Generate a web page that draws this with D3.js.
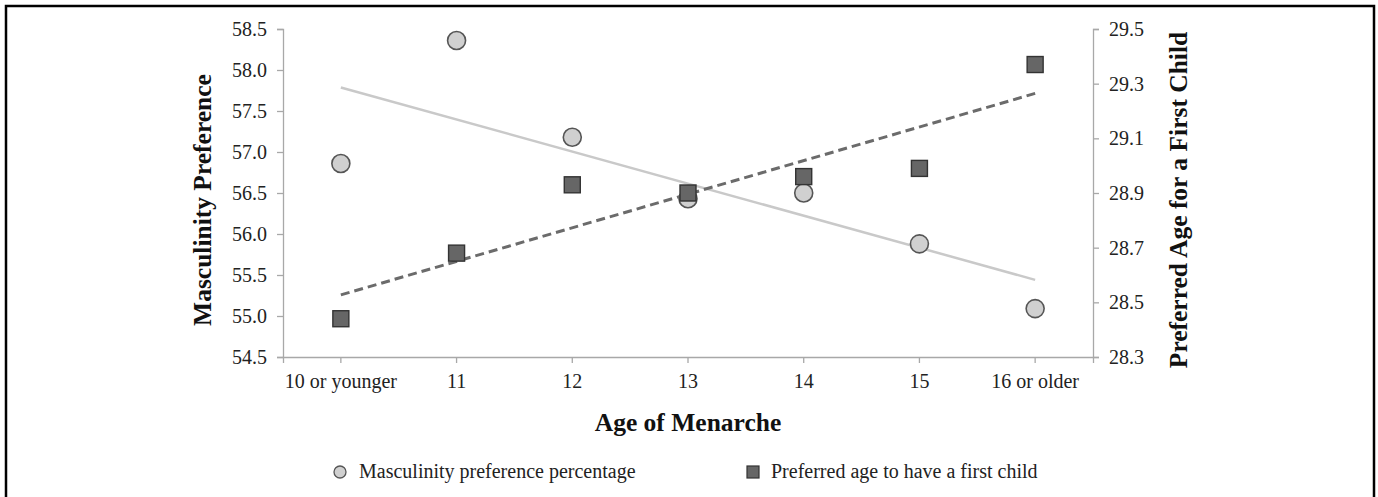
<!DOCTYPE html>
<html>
<head>
<meta charset="utf-8">
<script src="https://cdn.jsdelivr.net/npm/d3@7"></script>
<style>
  html, body { margin: 0; padding: 0; background: #fff; }
  svg { display: block; }
</style>
</head>
<body>
<svg id="chart" width="1378" height="497"></svg>
<script>
// ---- data ----
const categories = ["10 or younger", "11", "12", "13", "14", "15", "16 or older"];
const masculinity = [56.86, 58.36, 57.18, 56.43, 56.50, 55.88, 55.09];
const firstChildAge = [28.44, 28.68, 28.93, 28.90, 28.96, 28.99, 29.37];
const leftTicks = [54.5, 55.0, 55.5, 56.0, 56.5, 57.0, 57.5, 58.0, 58.5];
const rightTicks = [28.3, 28.5, 28.7, 28.9, 29.1, 29.3, 29.5];
const seriesNames = ["Masculinity preference percentage", "Preferred age to have a first child"];

// ---- layout ----
const svg = d3.select("#chart");
const font = "'Liberation Serif', 'Times New Roman', serif";
const L = 283, R = 1093, T = 29, B = 357;

svg.append("rect").attr("x", 6).attr("y", 6).attr("width", 1368).attr("height", 510)
  .attr("fill", "none").attr("stroke", "#000").attr("stroke-width", 2.5);

const x = d3.scaleBand().domain(categories).range([L, R]).padding(0);
const cx = c => x(c) + x.bandwidth() / 2;
const yL = d3.scaleLinear().domain([54.5, 58.5]).range([B, T]);
const yR = d3.scaleLinear().domain([28.3, 29.5]).range([B, T]);

function styleAxis(g) {
  g.selectAll("path, line").attr("stroke", "#a8a8a8").attr("stroke-width", 1.3);
  g.selectAll("text").attr("font-family", font).attr("font-size", 20).attr("fill", "#222");
}

svg.append("g").attr("transform", `translate(${L},0)`)
  .call(d3.axisLeft(yL).tickValues(leftTicks).tickFormat(d3.format(".1f")).tickSizeOuter(0).tickSize(6).tickPadding(10))
  .call(styleAxis);
svg.append("g").attr("transform", `translate(${R},0)`)
  .call(d3.axisRight(yR).tickValues(rightTicks).tickFormat(d3.format(".1f")).tickSizeOuter(0).tickSize(6).tickPadding(10))
  .call(styleAxis);
svg.append("g").attr("transform", `translate(0,${B})`)
  .call(d3.axisBottom(x).tickSizeOuter(0).tickSize(6).tickPadding(11))
  .call(styleAxis);

// ---- axis titles ----
svg.append("text").attr("transform", `translate(211,200) rotate(-90)`)
  .attr("text-anchor", "middle").attr("font-family", font).attr("font-weight", "bold")
  .attr("font-size", 25.5).attr("fill", "#111").text("Masculinity Preference");
svg.append("text").attr("transform", `translate(1187,200) rotate(-90)`)
  .attr("text-anchor", "middle").attr("font-family", font).attr("font-weight", "bold")
  .attr("font-size", 25.5).attr("fill", "#111").text("Preferred Age for a First Child");
svg.append("text").attr("x", (L + R) / 2).attr("y", 431)
  .attr("text-anchor", "middle").attr("font-family", font).attr("font-weight", "bold")
  .attr("font-size", 25.5).attr("fill", "#111").text("Age of Menarche");

// ---- trend lines (least squares over category index) ----
function fit(vals) {
  const n = vals.length, xs = vals.map((_, i) => i);
  const mx = d3.mean(xs), my = d3.mean(vals);
  const sxy = d3.sum(xs, (xi, i) => (xi - mx) * (vals[i] - my));
  const sxx = d3.sum(xs, xi => (xi - mx) ** 2);
  const b = sxy / sxx, a = my - b * mx;
  return [[0, a], [n - 1, a + b * (n - 1)]];
}
const line = yScale => d3.line().x(d => cx(categories[d[0]])).y(d => yScale(d[1]));

svg.append("path").datum(fit(masculinity)).attr("d", line(yL))
  .attr("fill", "none").attr("stroke", "#c9c9c9").attr("stroke-width", 2.5);

// ---- markers ----
svg.append("g").selectAll("circle").data(masculinity).join("circle")
  .attr("cx", (d, i) => cx(categories[i])).attr("cy", d => yL(d)).attr("r", 9)
  .attr("fill", "#d0d0d0").attr("stroke", "#555").attr("stroke-width", 1.6);

svg.append("path").datum(fit(firstChildAge)).attr("d", line(yR))
  .attr("fill", "none").attr("stroke", "#6b6b6b").attr("stroke-width", 3)
  .attr("stroke-dasharray", "9,5");

const sq = 16;
svg.append("g").selectAll("rect").data(firstChildAge).join("rect")
  .attr("x", (d, i) => cx(categories[i]) - sq / 2).attr("y", d => yR(d) - sq / 2)
  .attr("width", sq).attr("height", sq)
  .attr("fill", "#666").attr("stroke", "#333").attr("stroke-width", 1.4);

// ---- legend ----
const leg = svg.append("g");
leg.append("circle").attr("cx", 340).attr("cy", 472).attr("r", 6)
  .attr("fill", "#d0d0d0").attr("stroke", "#555").attr("stroke-width", 1.3);
leg.append("text").attr("x", 359).attr("y", 478).attr("font-family", font).attr("font-size", 20)
  .attr("fill", "#222").text(seriesNames[0]);
leg.append("rect").attr("x", 747).attr("y", 466).attr("width", 12).attr("height", 12)
  .attr("fill", "#666").attr("stroke", "#333").attr("stroke-width", 1.2);
leg.append("text").attr("x", 771).attr("y", 478).attr("font-family", font).attr("font-size", 20)
  .attr("fill", "#222").text(seriesNames[1]);
</script>
</body>
</html>
